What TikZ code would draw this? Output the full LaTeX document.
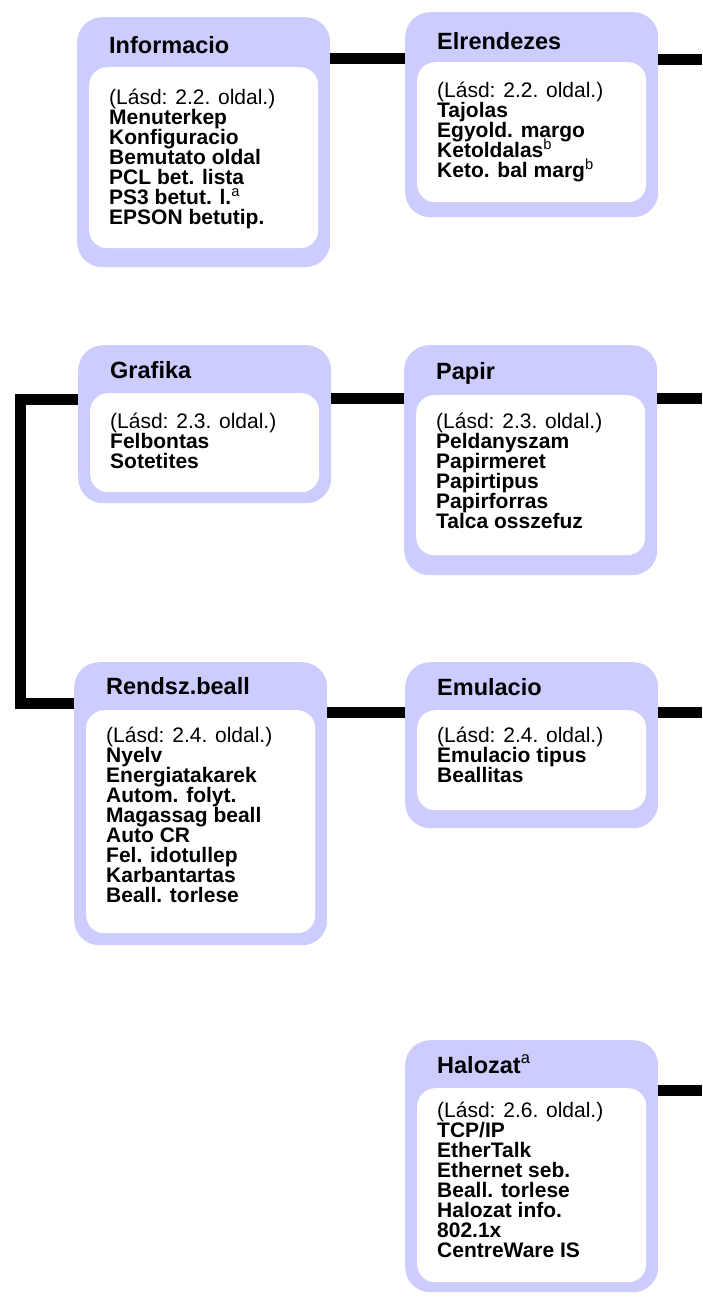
\documentclass[tikz,border=0pt]{standalone}
\usepackage{fontspec}
\setmainfont{Liberation Sans}
\usetikzlibrary{positioning}
\definecolor{menublue}{RGB}{204,204,255}
\newcommand{\itemfont}{\fontsize{21}{20}\selectfont\lineskiplimit=-20pt\relax}
\tikzset{
    menu/.style={rectangle,rounded corners=25pt, anchor=north west,
        minimum width=253pt, inner sep=0pt, fill=menublue},
    sheet/.style={rectangle,rounded corners=18pt, anchor=north west,
        minimum width=229pt, inner sep=0pt, fill=white},
    heading/.style={anchor=base west, inner sep=0pt,
        font=\bfseries\fontsize{23.5}{28}\selectfont},
    items/.style={anchor=north west, inner sep=0pt, align=left,
        font=\itemfont},
    link/.style={line width=11pt}
}
\newcommand{\supnote}[1]{\textsuperscript{\normalfont #1}}

\begin{document}
\begin{tikzpicture}[x=1pt,y=-1pt]
    \useasboundingbox (0,0) rectangle (702,1298);
    \coordinate (east) at (702,0);
    \coordinate (spine) at (20.5,0);

    \node[menu, minimum height=250pt] (info) at (77,17) {};
    \node[sheet, minimum height=181pt, below right=50pt and 12pt of info.north west] (infosheet) {};
    \node[heading] (infotitle) at ([shift={(32pt,-37pt)}]info.north west) {Informacio};
    \node[items, below right=21.5pt and 20pt of infosheet.north west] (infoitems) {(Lásd: 2.2. oldal.)\\
        \textbf{Menuterkep}\\ \textbf{Konfiguracio}\\ \textbf{Bemutato oldal}\\
        \textbf{PCL bet. lista}\\ \textbf{PS3 betut. l.}\supnote{a}\\ \textbf{EPSON betutip.}};

    \node[menu, minimum height=205pt] (elr) at (405,12) {};
    \node[sheet, minimum height=140pt, below right=50pt and 12pt of elr.north west] (elrsheet) {};
    \node[heading] (elrtitle) at ([shift={(32pt,-37pt)}]elr.north west) {Elrendezes};
    \node[items, below right=19.5pt and 20pt of elrsheet.north west] (elritems) {(Lásd: 2.2. oldal.)\\
        \textbf{Tajolas}\\ \textbf{Egyold. margo}\\ \textbf{Ketoldalas}\supnote{b}\\
        \textbf{Keto. bal marg}\supnote{b}};

    \node[menu, minimum height=158pt] (grafika) at (78,345) {};
    \node[sheet, minimum height=99pt, below right=48pt and 12pt of grafika.north west] (grafikasheet) {};
    \node[heading] (grafikatitle) at ([shift={(32pt,-33pt)}]grafika.north west) {Grafika};
    \node[items, below right=20pt and 20pt of grafikasheet.north west] (grafikaitems) {(Lásd: 2.3. oldal.)\\
        \textbf{Felbontas}\\ \textbf{Sotetites}};

    \node[menu, minimum height=230pt] (papir) at (404,345) {};
    \node[sheet, minimum height=160pt, below right=50pt and 12pt of papir.north west] (papirsheet) {};
    \node[heading] (papirtitle) at ([shift={(32pt,-34pt)}]papir.north west) {Papir};
    \node[items, below right=17.5pt and 20pt of papirsheet.north west] (papiritems) {(Lásd: 2.3. oldal.)\\
        \textbf{Peldanyszam}\\ \textbf{Papirmeret}\\ \textbf{Papirtipus}\\
        \textbf{Papirforras}\\ \textbf{Talca osszefuz}};

    \node[menu, minimum height=283pt] (rendsz) at (74,662) {};
    \node[sheet, minimum height=223pt, below right=48pt and 12pt of rendsz.north west] (rendszsheet) {};
    \node[heading] (rendsztitle) at ([shift={(32pt,-32pt)}]rendsz.north west) {Rendsz.beall};
    \node[items, below right=17pt and 20pt of rendszsheet.north west] (rendszitems) {(Lásd: 2.4. oldal.)\\
        \textbf{Nyelv}\\ \textbf{Energiatakarek}\\ \textbf{Autom. folyt.}\\
        \textbf{Magassag beall}\\ \textbf{Auto CR}\\ \textbf{Fel. idotullep}\\
        \textbf{Karbantartas}\\ \textbf{Beall. torlese}};

    \node[menu, minimum height=166pt] (emul) at (405,662) {};
    \node[sheet, minimum height=100pt, below right=48pt and 12pt of emul.north west] (emulsheet) {};
    \node[heading] (emultitle) at ([shift={(32pt,-33pt)}]emul.north west) {Emulacio};
    \node[items, below right=17pt and 20pt of emulsheet.north west] (emulitems) {(Lásd: 2.4. oldal.)\\
        \textbf{Emulacio tipus}\\ \textbf{Beallitas}};

    \node[menu, minimum height=252pt] (halozat) at (405,1040) {};
    \node[sheet, minimum height=194pt, below right=48pt and 12pt of halozat.north west] (halozatsheet) {};
    \node[heading] (halozattitle) at ([shift={(32pt,-33pt)}]halozat.north west) {Halozat\supnote{a}};
    \node[items, below right=14pt and 20pt of halozatsheet.north west] (halozatitems) {(Lásd: 2.6. oldal.)\\
        \textbf{TCP/IP}\\ \textbf{EtherTalk}\\ \textbf{Ethernet seb.}\\
        \textbf{Beall. torlese}\\ \textbf{Halozat info.}\\ \textbf{802.1x}\\
        \textbf{CentreWare IS}};

    \draw[link] (info.east |- 0,59) -- (elr.west |- 0,59);
    \draw[link] (elr.east |- 0,60) -- (east |- 0,60);
    \draw[link] (grafika.west |- 0,399) -| (spine |- 0,703) -- (rendsz.west |- 0,703);
    \draw[link] (grafika.east |- 0,398) -- (papir.west |- 0,398);
    \draw[link] (papir.east |- 0,398) -- (east |- 0,398);
    \draw[link] (rendsz.east |- 0,712) -- (emul.west |- 0,712);
    \draw[link] (emul.east |- 0,712) -- (east |- 0,712);
    \draw[link] (halozat.east |- 0,1090) -- (east |- 0,1090);
\end{tikzpicture}
\end{document}
